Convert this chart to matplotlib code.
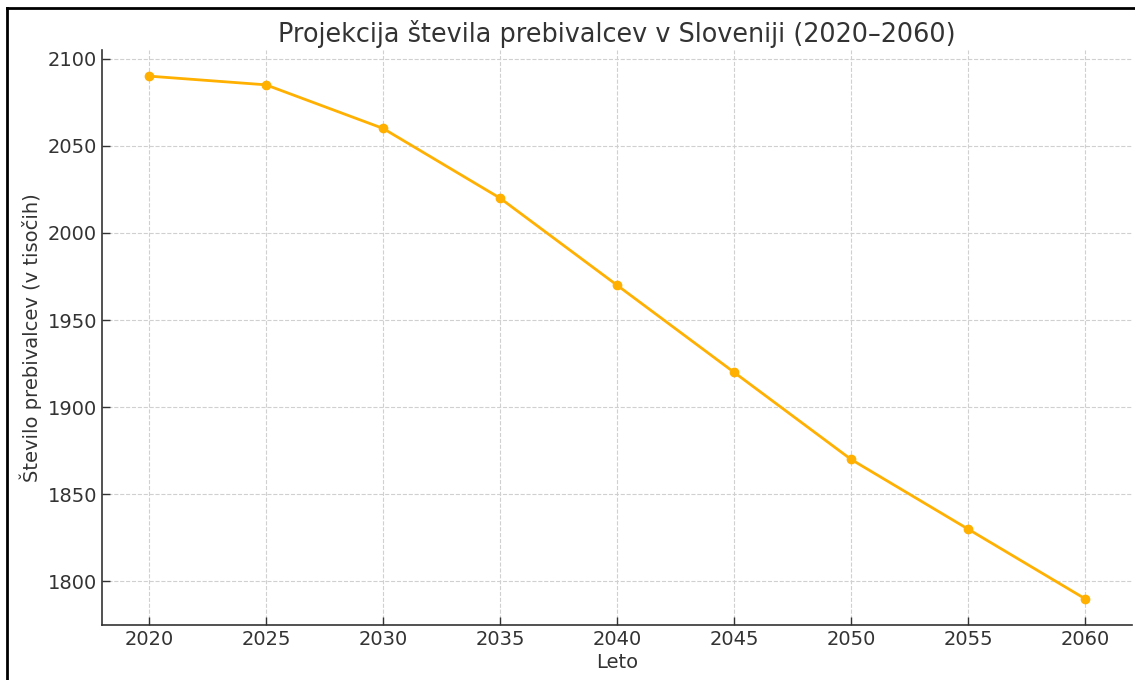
import matplotlib
matplotlib.use("Agg")
import matplotlib.pyplot as plt
from matplotlib.lines import Line2D

leta = [2020, 2025, 2030, 2035, 2040, 2045, 2050, 2055, 2060]
prebivalci = [2090, 2085, 2060, 2020, 1970, 1920, 1870, 1830, 1790]

plt.rcParams['font.family'] = ['DejaVu Sans']
text_color = '#333333'

fig = plt.figure(figsize=(11.35, 6.8), dpi=100)
ax = fig.add_axes([0.0899, 0.0809, 0.9075, 0.8456])

ax.plot(leta, prebivalci, color='#FFB000', linewidth=2, marker='o', markersize=6)

ax.set_title('Projekcija števila prebivalcev v Sloveniji (2020–2060)', fontsize=18.4, color=text_color, pad=6)
ax.set_xlabel('Leto', fontsize=14, color=text_color, labelpad=3)
ax.set_ylabel('Število prebivalcev (v tisočih)', fontsize=14, color=text_color, labelpad=4)
ax.set_xticks(leta)
ax.tick_params(labelsize=14, colors=text_color, direction='in', length=6, width=1)
ax.grid(True, linestyle='--', color='#d0d0d0', linewidth=0.8)
ax.spines['top'].set_visible(False)
ax.spines['right'].set_visible(False)
for s in ['left', 'bottom']:
    ax.spines[s].set_color(text_color)
    ax.spines[s].set_linewidth(1.2)

# screenshot frame on top and left
fig.add_artist(Line2D([7 / 1135, 1.0], [1 - 8 / 680, 1 - 8 / 680], color='black', linewidth=2))
fig.add_artist(Line2D([7 / 1135, 7 / 1135], [0.0, 1 - 8 / 680], color='black', linewidth=2))

fig.savefig('out.png', dpi=100)
